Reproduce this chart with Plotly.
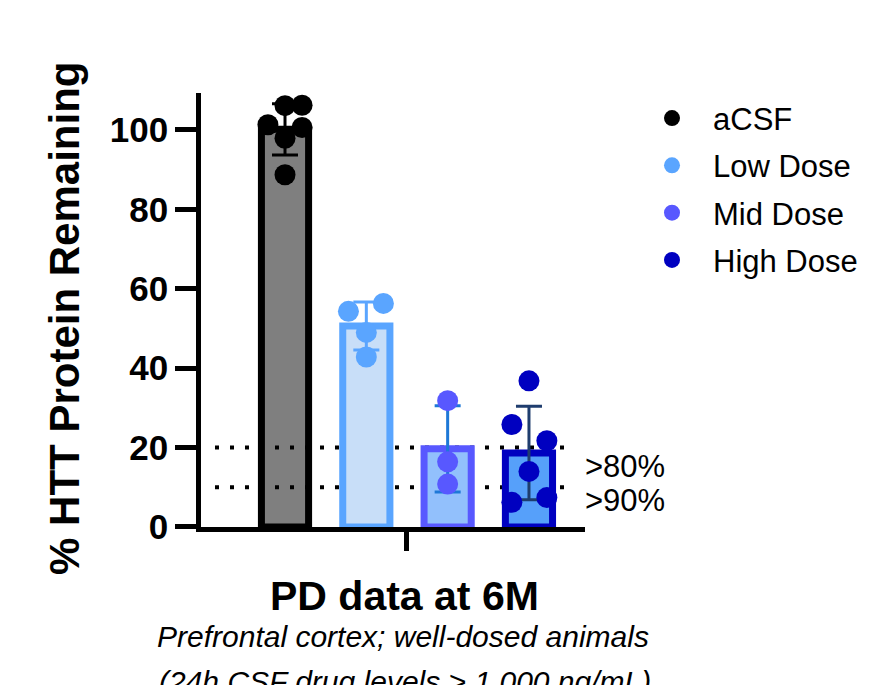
import numpy as np
import plotly.graph_objects as go

# ---- data ----
GROUPS = ["aCSF", "Low Dose", "Mid Dose", "High Dose"]
ACSF = [106.1, 106.2, 101.3, 100.6, 97.9, 88.7]
LOW_DOSE = [54.3, 56.3, 49.0, 42.8]
MID_DOSE = [31.8, 16.4, 10.8]
HIGH_DOSE = [36.8, 25.8, 21.7, 14.0, 6.2, 7.4]
THRESHOLDS = [20, 10]
THRESHOLD_LABELS = [">80%", ">90%"]
Y_TICKS = [0, 20, 40, 60, 80, 100]

# horizontal spread of the dots inside each bar (layout, fraction of category spacing)
SPREAD = [
    [0, 0.21, -0.21, 0.21, 0, 0],
    [-0.22, 0.21, 0, 0],
    [0, 0, 0],
    [0, -0.21, 0.22, 0, -0.21, 0.22],
]

# ---- styles ----
POINT_COLORS = ["#000000", "#5AA5FF", "#5858FF", "#0000C0"]
BAR_LINE = ["#000000", "#5AA5FF", "#5858FF", "#0000C0"]
BAR_FILL = ["rgba(0,0,0,0.5)", "#C8DEF8", "#92C0FC", "#56A0FA"]
ERR_COLORS = ["#000000", "#5AA5FF", "#1E78D7", "#1F3D6E"]
FONT = "Liberation Sans, Arial, Helvetica, sans-serif"

series = [ACSF, LOW_DOSE, MID_DOSE, HIGH_DOSE]
W, H = 891, 685

fig = go.Figure()

for i, (name, vals) in enumerate(zip(GROUPS, series)):
    v = np.array(vals, dtype=float)
    fig.add_trace(go.Bar(
        x=[i], y=[v.mean()], width=0.58,
        marker=dict(color=BAR_FILL[i], line=dict(color=BAR_LINE[i], width=7)),
        error_y=dict(type="data", array=[v.std(ddof=1)], color=ERR_COLORS[i],
                     thickness=3, width=13),
        showlegend=False, hoverinfo="skip",
    ))

for i, (name, vals) in enumerate(zip(GROUPS, series)):
    xs = [i + o for o in SPREAD[i]]
    fig.add_trace(go.Scatter(
        x=xs, y=vals, mode="markers", name=name, legendgroup=name,
        marker=dict(color=POINT_COLORS[i], size=21),
    ))

for t in THRESHOLDS:
    fig.add_shape(type="line", xref="paper", yref="y", x0=0.2413, x1=0.6375,
                  y0=t, y1=t, layer="below",
                  line=dict(color="black", width=4, dash="4px,11px"))

x_center = (0 + len(GROUPS) - 1) / 2

fig.update_layout(
    width=W, height=H,
    margin=dict(l=0, r=0, t=0, b=0),
    plot_bgcolor="white", paper_bgcolor="white",
    barmode="overlay",
    font=dict(family=FONT, color="black"),
    xaxis=dict(domain=[201 / W, 585 / W], range=[-1.033, 3.689],
               showline=True, linewidth=4.5, linecolor="black",
               ticks="outside", ticklen=19, tickwidth=4.5, tickcolor="black",
               tickvals=[x_center], ticktext=[""], showgrid=False, zeroline=False),
    yaxis=dict(domain=[(H - 542) / H, (H - 96) / H], range=[0, 109.2],
               showline=True, linewidth=4.5, linecolor="black",
               ticks="outside", ticklen=21, tickwidth=4.5, tickcolor="black",
               tickvals=Y_TICKS, showgrid=False, zeroline=False,
               tickfont=dict(size=35, family=FONT, weight="bold")),
    legend=dict(x=631 / W, y=(H - 94) / H, xanchor="left", yanchor="top",
                font=dict(size=31, family=FONT), itemwidth=72,
                traceorder="grouped", tracegroupgap=4, bgcolor="rgba(0,0,0,0)"),
)

annos = [
    dict(text="<b>PD data at 6M</b>", x=404 / W, y=(H - 613) / H, size=41),
    dict(text="<i>Prefrontal cortex; well-dosed animals</i>", x=403 / W, y=(H - 655) / H, size=30),
    dict(text="<i>(24h CSF drug levels > 1,000 ng/mL)</i>", x=405 / W, y=(H - 701) / H, size=30),
]
for a in annos:
    fig.add_annotation(text=a["text"], x=a["x"], y=a["y"], xref="paper", yref="paper",
                       xanchor="center", yanchor="middle", showarrow=False,
                       font=dict(size=a["size"], family=FONT, color="black"))

fig.add_annotation(text="<b>% HTT Protein Remaining</b>", x=65 / W, y=(H - 328) / H,
                   xref="paper", yref="paper", textangle=-90, showarrow=False,
                   xanchor="center", yanchor="middle",
                   font=dict(size=42, family=FONT, color="black"))

for lab, yc in zip(THRESHOLD_LABELS, [480, 515]):
    fig.add_annotation(text=lab, x=583 / W, y=(H - yc) / H, xref="paper", yref="paper",
                       xanchor="left", yanchor="middle", showarrow=False,
                       font=dict(size=31, family=FONT, color="black"))

fig.write_html(
    "out.html",
    config={"displayModeBar": False},
    post_script="document.body.style.margin='0';document.body.style.overflow='hidden';",
)
